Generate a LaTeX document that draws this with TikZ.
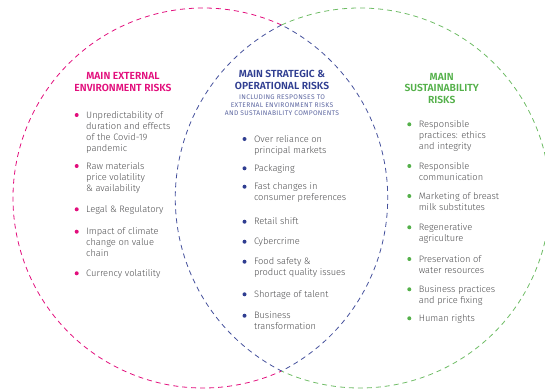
\documentclass[tikz,border=0pt]{standalone}
\usepackage{fontspec}
\setmainfont{Fira Sans Light}[BoldFont=Fira Sans SemiBold]
\newfontfamily\regfont{Fira Sans}[LetterSpace=5]
\definecolor{pinkc}{RGB}{226,14,124}
\definecolor{bluec}{RGB}{48,62,145}
\definecolor{greenc}{RGB}{84,176,74}
\definecolor{subc}{RGB}{92,102,160}
\definecolor{txtc}{RGB}{78,78,80}
\tikzset{
  ring/.style={dashed, dash pattern=on 5pt off 4pt, line width=0.8pt},
  hdr/.style={font=\fontsize{10.3}{11.4}\selectfont\bfseries, align=center, inner sep=0pt, anchor=north},
  subt/.style={font=\regfont\fontsize{6.7}{7.8}\selectfont, align=center, inner sep=0pt, anchor=north, text=subc},
  itm/.style={font=\fontsize{9.3}{11}\selectfont, align=left, inner sep=0pt, anchor=north west, text=txtc},
  bdot/.style={circle, inner sep=0pt, minimum size=4pt}
}
\newcommand\bitem[5]{%
  \node[bdot, fill=#2] (#1d) at (#3,-#4) {};
  \node[itm] (#1) at ({#3+9.3},{-#4+4.9}) {\strut #5};
}
\begin{document}
\begin{tikzpicture}[x=1pt,y=1pt]
\useasboundingbox (0,0) rectangle (545,-389);
% circles (outer arcs) and lens
\coordinate (T) at (281.5,-25);
\coordinate (B) at (281.5,-371);
\draw[ring, pinkc] (T) arc[start angle=65.6, end angle=294.4, radius=190];
\draw[ring, greenc!85!white] (T) arc[start angle=114.4, end angle=-114.4, radius=190];
\draw[ring, bluec!90!white] (T) arc[start angle=116.91, end angle=243.09, radius=194]
  arc[start angle=-63.09, end angle=63.09, radius=194];
% headers
\node[hdr, text=pinkc] (h1) at (123,-72.5) {MAIN EXTERNAL\\ENVIRONMENT RISKS};
\node[hdr, text=bluec] (h2) at (282,-70.5) {MAIN STRATEGIC \&\\OPERATIONAL RISKS};
\node[subt] (h2s) at (282,-94.8) {INCLUDING RESPONSES TO\\EXTERNAL ENVIRONMENT RISKS\\AND SUSTAINABILITY COMPONENTS};
\node[hdr, text=greenc] (h3) at (441.7,-73) {MAIN\\SUSTAINABILITY\\RISKS};
% left items
\bitem{l1}{pinkc}{76.7}{115}{Unpredictability of\\duration and effects\\of the Covid-19\\pandemic}
\bitem{l2}{pinkc}{76.7}{166}{Raw materials\\price volatility\\\& availability}
\bitem{l3}{pinkc}{76.7}{209.3}{Legal \& Regulatory}
\bitem{l4}{pinkc}{76.7}{231.7}{Impact of climate\\change on value\\chain}
\bitem{l5}{pinkc}{76.7}{273.3}{Currency volatility}
% middle items
\bitem{m1}{bluec}{244.5}{139}{Over reliance on\\principal markets}
\bitem{m2}{bluec}{244.5}{168.3}{Packaging}
\bitem{m3}{bluec}{244.5}{186.7}{Fast changes in\\consumer preferences}
\bitem{m4}{bluec}{244.5}{221.7}{Retail shift}
\bitem{m5}{bluec}{244.5}{241.7}{Cybercrime}
\bitem{m6}{bluec}{244.5}{261.7}{Food safety \&\\product quality issues}
\bitem{m7}{bluec}{244.5}{294.3}{Shortage of talent}
\bitem{m8}{bluec}{244.5}{315.7}{Business\\transformation}
% right items
\bitem{r1}{greenc}{409.3}{124.3}{Responsible\\practices: ethics\\and integrity}
\bitem{r2}{greenc}{409.3}{166}{Responsible\\communication}
\bitem{r3}{greenc}{409.3}{196}{Marketing of breast\\milk substitutes}
\bitem{r4}{greenc}{409.3}{227.3}{Regenerative\\agriculture}
\bitem{r5}{greenc}{409.3}{259}{Preservation of\\water resources}
\bitem{r6}{greenc}{409.3}{289.3}{Business practices\\and price fixing}
\bitem{r7}{greenc}{409.3}{318.3}{Human rights}
\end{tikzpicture}
\end{document}
